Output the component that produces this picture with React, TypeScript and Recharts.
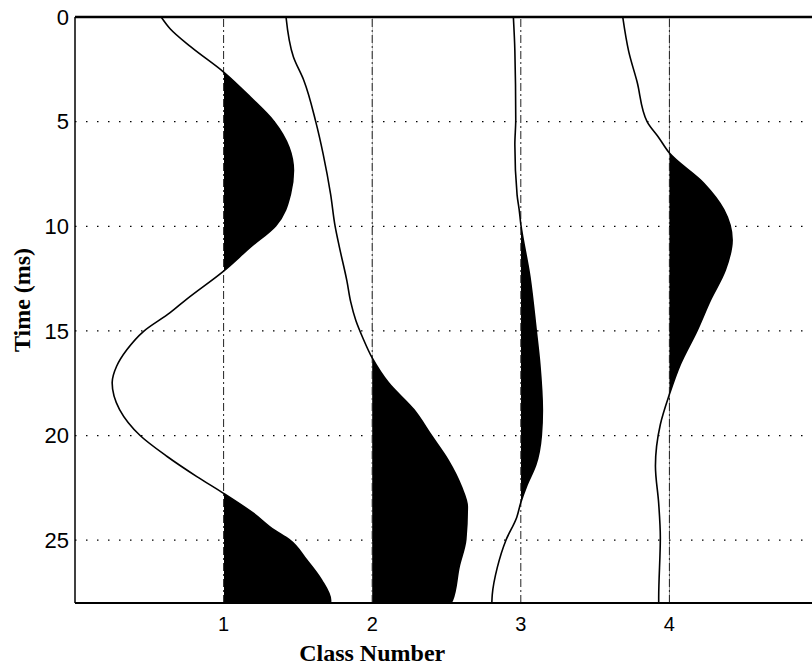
import React from "react"
import {
  ComposedChart,
  Area,
  Line,
  XAxis,
  YAxis,
  CartesianGrid,
  ReferenceLine,
  Label,
} from "recharts"

// class positions (x axis) and time ticks (y axis, ms)
const classNumbers = [1, 2, 3, 4]
const timeTicks = [0, 5, 10, 15, 20, 25]

// wiggle traces: time (ms) and amplitude offset from the class line
const times1 = [0, 0.56, 1.43, 2.63, 3.83, 5.0, 6.22, 7.34, 8.46, 9.98, 11.0, 12.14, 13.49, 14.13, 15.03, 15.89, 16.69, 17.48, 18.76, 20.01, 21.0, 21.96, 22.76, 23.71, 24.51, 24.96, 25.95, 26.91, 27.87, 28]
const amp1 = [-0.42, -0.36, -0.22, 0, 0.18, 0.34, 0.44, 0.47, 0.45, 0.35, 0.18, 0, -0.25, -0.36, -0.54, -0.65, -0.72, -0.75, -0.7, -0.56, -0.38, -0.18, 0, 0.2, 0.34, 0.44, 0.56, 0.66, 0.72, 0.72]

const times2 = [0, 1.91, 3.03, 5.0, 6.55, 8.46, 9.98, 11.02, 12.62, 13.6, 14.5, 15.3, 16.29, 17.48, 18.76, 20.01, 21.16, 22.44, 23.4, 24.96, 26.27, 27.87, 28]
const amp2 = [-0.58, -0.53, -0.46, -0.38, -0.33, -0.28, -0.25, -0.22, -0.17, -0.145, -0.11, -0.065, 0, 0.11, 0.28, 0.4, 0.51, 0.6, 0.64, 0.63, 0.585, 0.54, 0.53]

const times3 = [0, 1.6, 4.9, 6.1, 8.5, 9.2, 9.9, 12.4, 15.0, 16.6, 18.8, 20.0, 21.4, 22.4, 23.2, 23.9, 25.0, 26.3, 27.6, 28]
const amp3 = [-0.05, -0.04, -0.034, -0.04, -0.025, -0.011, 0, 0.061, 0.104, 0.128, 0.145, 0.138, 0.101, 0.04, 0, -0.027, -0.1, -0.158, -0.192, -0.195]

const times4 = [0, 1.64, 3.08, 5.0, 5.78, 6.5, 7.94, 9.2, 10.65, 12.08, 13.53, 14.97, 16.59, 18.03, 19.47, 21.45, 23.25, 24.87, 27.76, 28]
const amp4 = [-0.314, -0.274, -0.218, -0.15, -0.07, 0, 0.231, 0.366, 0.422, 0.377, 0.276, 0.187, 0.074, 0, -0.061, -0.094, -0.072, -0.061, -0.072, -0.072]

const traces = [
  { k: 1, times: times1, amps: amp1 },
  { k: 2, times: times2, amps: amp2 },
  { k: 3, times: times3, amps: amp3 },
  { k: 4, times: times4, amps: amp4 },
].map(({ k, times, amps }) => {
  const lo = Math.min(0, ...amps)
  const hi = Math.max(0, ...amps)
  return {
    k,
    data: times.map((t, i) => ({ t, x: k + amps[i] })),
    // where the class line sits inside the trace's bounding box
    split: (0 - lo) / (hi - lo),
  }
})

const sans = "'Liberation Sans', Arial, sans-serif"
const serif = "'Liberation Serif', 'Times New Roman', serif"

function YTitle(props: any) {
  const vb = props.viewBox
  const x = vb.x + 7
  const y = vb.y + vb.height / 2 - 10
  return (
    <text
      x={x}
      y={y}
      transform={`rotate(-90, ${x}, ${y})`}
      textAnchor="middle"
      dominantBaseline="central"
      fontFamily={serif}
      fontWeight="bold"
      fontSize={24}
      fill="#000"
    >
      Time (ms)
    </text>
  )
}

function XTitle(props: any) {
  const vb = props.viewBox
  return (
    <text
      x={vb.x + (vb.width * 2) / 5}
      y={vb.y + 58}
      textAnchor="middle"
      fontFamily={serif}
      fontWeight="bold"
      fontSize={24}
      fill="#000"
    >
      Class Number
    </text>
  )
}

export default function App() {
  return (
    <div
      style={{
        position: "absolute",
        left: 0,
        top: 0,
        width: 812,
        height: 671,
        overflow: "hidden",
        background: "#fff",
      }}
    >
      <ComposedChart
        layout="vertical"
        width={830}
        height={671}
        margin={{ top: 17, right: 12, bottom: 0, left: 15 }}
      >
        <defs>
          {traces.map((tr) => (
            <linearGradient key={tr.k} id={`pos${tr.k}`} x1="0" y1="0" x2="1" y2="0">
              <stop offset={0} stopColor="#000" stopOpacity={0} />
              <stop offset={tr.split} stopColor="#000" stopOpacity={0} />
              <stop offset={tr.split} stopColor="#000" stopOpacity={1} />
              <stop offset={1} stopColor="#000" stopOpacity={1} />
            </linearGradient>
          ))}
        </defs>

        <CartesianGrid
          vertical={false}
          stroke="#000"
          strokeWidth={1.3}
          strokeDasharray="1.5 9.5"
        />

        <XAxis
          type="number"
          domain={[0, 5]}
          allowDataOverflow
          ticks={classNumbers}
          height={68}
          tickLine={false}
          tickMargin={8}
          axisLine={{ stroke: "#000", strokeWidth: 2 }}
          tick={{ fill: "#000", fontSize: 20, fontFamily: sans }}
        >
          <Label content={XTitle} />
        </XAxis>

        <YAxis
          type="number"
          dataKey="t"
          domain={[0, 28]}
          allowDataOverflow
          ticks={timeTicks}
          width={60}
          tickLine={false}
          tickMargin={0}
          axisLine={{ stroke: "#000", strokeWidth: 1.5 }}
          tick={{ fill: "#000", fontSize: 22, fontFamily: sans }}
        >
          <Label content={YTitle} />
        </YAxis>

        {classNumbers.map((c) => (
          <ReferenceLine
            key={c}
            x={c}
            stroke="#222"
            strokeWidth={1}
            strokeDasharray="8 3 2 3"
          />
        ))}
        <ReferenceLine y={0} stroke="#000" strokeWidth={2.5} />

        {traces.map((tr) => (
          <Area
            key={`a${tr.k}`}
            data={tr.data}
            dataKey={(d: any) => [tr.k, d.x]}
            type="monotone"
            stroke="none"
            fill={`url(#pos${tr.k})`}
            fillOpacity={1}
            isAnimationActive={false}
          />
        ))}
        {traces.map((tr) => (
          <Line
            key={`l${tr.k}`}
            data={tr.data}
            dataKey="x"
            type="monotone"
            stroke="#000"
            strokeWidth={1.6}
            dot={false}
            isAnimationActive={false}
          />
        ))}
      </ComposedChart>
    </div>
  )
}
